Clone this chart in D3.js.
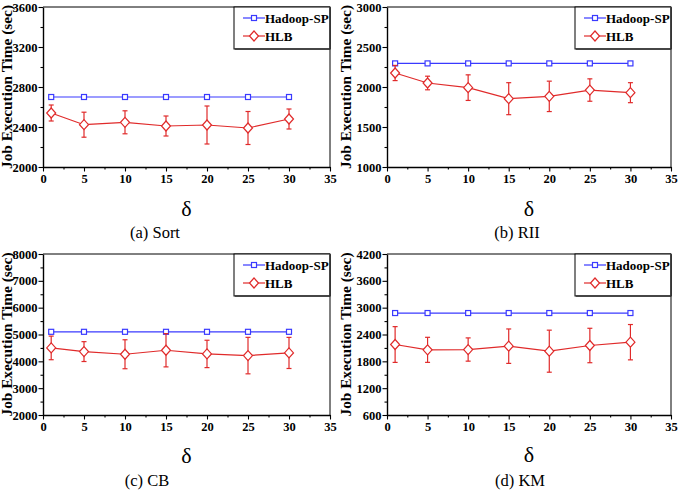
<!DOCTYPE html>
<html>
<head>
<meta charset="utf-8">
<script src="https://cdn.jsdelivr.net/npm/d3@7"></script>
<style>
  body { margin: 0; background: #fff; }
  svg { display: block; }
  text { font-family: "Liberation Serif", "Times New Roman", serif; }
</style>
</head>
<body>
<svg id="chart" width="678" height="490"></svg>
<script>
// delta values on the x axis
const deltas = [1, 5, 10, 15, 20, 25, 30];

// (a) Sort
const sortHadoop = [2700, 2700, 2700, 2700, 2700, 2700, 2700];
const sortHLB = [2540, 2423, 2447, 2410, 2420, 2390, 2480];
const sortErr = [80, 125, 115, 100, 190, 165, 100];

// (b) RII
const riiHadoop = [2295, 2295, 2295, 2295, 2295, 2295, 2295];
const riiHLB = [2175, 2050, 1992, 1854, 1883, 1962, 1929];
const riiErr = [95, 85, 160, 200, 190, 140, 125];

// (c) CB
const cbHadoop = [5100, 5100, 5100, 5100, 5100, 5100, 5100];
const cbHLB = [4500, 4363, 4264, 4413, 4276, 4214, 4313];
const cbErr = [440, 370, 540, 620, 510, 680, 580];

// (d) KM
const kmHadoop = [2880, 2880, 2880, 2880, 2880, 2880, 2880];
const kmHLB = [2176, 2057, 2064, 2139, 2027, 2154, 2228];
const kmErr = [400, 280, 260, 385, 470, 385, 395];

const xTicks = [0, 5, 10, 15, 20, 25, 30, 35];
const sortTicks = [2000, 2400, 2800, 3200, 3600];
const riiTicks = [1000, 1500, 2000, 2500, 3000];
const cbTicks = [2000, 3000, 4000, 5000, 6000, 7000, 8000];
const kmTicks = [600, 1200, 1800, 2400, 3000, 3600, 4200];

const captions = ["(a) Sort", "(b) RII", "(c) CB", "(d) KM"];
const seriesNames = ["Hadoop-SP", "HLB"];

const blue = "#3a3aff";
const red = "#e02a2a";

const svg = d3.select("#chart");

const panels = [
  {x0: 43, x1: 330, y0: 7, y1: 167, yTicks: sortTicks, hadoop: sortHadoop, hlb: sortHLB, err: sortErr,
   labelX: 7, deltaY: 216, capX: 155, capY: 238, caption: captions[0]},
  {x0: 387, x1: 671, y0: 7, y1: 167, yTicks: riiTicks, hadoop: riiHadoop, hlb: riiHLB, err: riiErr,
   labelX: 346, deltaY: 216, capX: 517, capY: 238, caption: captions[1]},
  {x0: 43, x1: 330, y0: 254, y1: 415, yTicks: cbTicks, hadoop: cbHadoop, hlb: cbHLB, err: cbErr,
   labelX: 7, deltaY: 463, capX: 147, capY: 486, caption: captions[2]},
  {x0: 387, x1: 671, y0: 254, y1: 415, yTicks: kmTicks, hadoop: kmHadoop, hlb: kmHLB, err: kmErr,
   labelX: 346, deltaY: 462, capX: 520, capY: 486, caption: captions[3]}
];

panels.forEach(p => drawPanel(p));

function drawPanel(p) {
  const x = d3.scaleLinear().domain([0, 35]).range([p.x0, p.x1]);
  const yMin = p.yTicks[0], yMax = p.yTicks[p.yTicks.length - 1];
  const y = d3.scaleLinear().domain([yMin, yMax]).range([p.y1, p.y0]);
  const yStep = p.yTicks[1] - p.yTicks[0];

  const g = svg.append("g");

  // frame top / right
  g.append("path")
    .attr("d", `M${p.x0},${p.y0}H${p.x1}V${p.y1}`)
    .attr("fill", "none").attr("stroke", "#000").attr("stroke-width", 1);

  // minor ticks
  const xMinor = d3.range(2.5, 35, 5);
  g.append("g").attr("transform", `translate(0,${p.y1})`)
    .call(d3.axisBottom(x).tickValues(xMinor).tickSize(2.5).tickFormat(""))
    .call(a => a.select(".domain").remove());
  const yMinor = d3.range(yMin + yStep / 2, yMax, yStep);
  g.append("g").attr("transform", `translate(${p.x0},0)`)
    .call(d3.axisLeft(y).tickValues(yMinor).tickSize(2.5).tickFormat(""))
    .call(a => a.select(".domain").remove());

  // major axes
  const xAxis = g.append("g").attr("transform", `translate(0,${p.y1})`)
    .call(d3.axisBottom(x).tickValues(xTicks).tickSize(4.5).tickSizeOuter(0).tickPadding(3));
  const yAxis = g.append("g").attr("transform", `translate(${p.x0},0)`)
    .call(d3.axisLeft(y).tickValues(p.yTicks).tickSize(4.5).tickSizeOuter(0).tickPadding(1).tickFormat(d3.format("d")));
  [xAxis, yAxis].forEach(a => {
    a.attr("font-size", 12.5).attr("font-family", null);
    a.selectAll("text").attr("font-weight", "bold").attr("fill", "#000");
    a.select(".domain").attr("stroke-width", 1.4);
  });
  g.selectAll(".tick line").attr("stroke-width", 1.1);

  // y label
  g.append("text")
    .attr("transform", `translate(${p.labelX},${(p.y0 + p.y1) / 2}) rotate(-90)`)
    .attr("text-anchor", "middle").attr("dominant-baseline", "central")
    .attr("font-size", 14).attr("font-weight", "bold")
    .attr("textLength", 164).attr("lengthAdjust", "spacingAndGlyphs")
    .text("Job Execution Time (sec)");

  // delta label and caption
  g.append("text")
    .attr("x", (p.x0 + p.x1) / 2).attr("y", p.deltaY)
    .attr("text-anchor", "middle").attr("font-size", 22)
    .text("δ");
  g.append("text")
    .attr("x", p.capX).attr("y", p.capY)
    .attr("text-anchor", "middle").attr("font-size", 16.5)
    .text(p.caption);

  const line = d3.line().x((d, i) => x(deltas[i])).y(d => y(d));

  // Hadoop-SP
  g.append("path").datum(p.hadoop).attr("d", line)
    .attr("fill", "none").attr("stroke", blue).attr("stroke-width", 1.2);
  g.selectAll(".sq").data(p.hadoop).enter().append("rect")
    .attr("x", (d, i) => x(deltas[i]) - 2.5).attr("y", d => y(d) - 2.5)
    .attr("width", 5).attr("height", 5)
    .attr("fill", "#fff").attr("stroke", blue).attr("stroke-width", 1.2);

  // HLB error bars
  const eb = g.selectAll(".eb").data(p.hlb).enter().append("g");
  eb.append("line")
    .attr("x1", (d, i) => x(deltas[i])).attr("x2", (d, i) => x(deltas[i]))
    .attr("y1", (d, i) => y(d + p.err[i])).attr("y2", (d, i) => y(d - p.err[i]))
    .attr("stroke", red).attr("stroke-width", 1.2);
  eb.append("line")
    .attr("x1", (d, i) => x(deltas[i]) - 2.5).attr("x2", (d, i) => x(deltas[i]) + 2.5)
    .attr("y1", (d, i) => y(d + p.err[i])).attr("y2", (d, i) => y(d + p.err[i]))
    .attr("stroke", red).attr("stroke-width", 1.2);
  eb.append("line")
    .attr("x1", (d, i) => x(deltas[i]) - 2.5).attr("x2", (d, i) => x(deltas[i]) + 2.5)
    .attr("y1", (d, i) => y(d - p.err[i])).attr("y2", (d, i) => y(d - p.err[i]))
    .attr("stroke", red).attr("stroke-width", 1.2);

  g.append("path").datum(p.hlb).attr("d", line)
    .attr("fill", "none").attr("stroke", red).attr("stroke-width", 1.2);
  g.selectAll(".dm").data(p.hlb).enter().append("path")
    .attr("d", (d, i) => diamond(x(deltas[i]), y(d)))
    .attr("fill", "#fff").attr("stroke", red).attr("stroke-width", 1.2);

  // legend
  const lw = 96, lh = 42;
  const lx = p.x1 - lw, ly = p.y0;
  const lg = g.append("g").attr("transform", `translate(${lx},${ly})`);
  lg.append("rect").attr("width", lw).attr("height", lh)
    .attr("fill", "#fff").attr("stroke", "#000").attr("stroke-width", 1);
  lg.append("line").attr("x1", lw).attr("x2", lw).attr("y1", 1).attr("y2", lh)
    .attr("stroke", "#333").attr("stroke-width", 1.5);
  lg.append("line").attr("x1", 1).attr("x2", lw).attr("y1", lh).attr("y2", lh)
    .attr("stroke", "#333").attr("stroke-width", 1.5);
  [0, 1].forEach(k => {
    const cy = k === 0 ? 11 : 29;
    const col = k === 0 ? blue : red;
    lg.append("line").attr("x1", 9).attr("x2", 31).attr("y1", cy).attr("y2", cy)
      .attr("stroke", col).attr("stroke-width", 1.2);
    if (k === 0) {
      lg.append("rect").attr("x", 17.5).attr("y", cy - 2.5).attr("width", 5).attr("height", 5)
        .attr("fill", "#fff").attr("stroke", col).attr("stroke-width", 1.2);
    } else {
      lg.append("path").attr("d", diamond(20, cy))
        .attr("fill", "#fff").attr("stroke", col).attr("stroke-width", 1.2);
    }
    lg.append("text").attr("x", 31).attr("y", cy).attr("dy", "0.35em")
      .attr("font-size", 13).attr("font-weight", "bold").text(seriesNames[k]);
  });
}

function diamond(cx, cy) {
  const w = 4.5, h = 5;
  return `M${cx},${cy - h}L${cx + w},${cy}L${cx},${cy + h}L${cx - w},${cy}Z`;
}
</script>
</body>
</html>
